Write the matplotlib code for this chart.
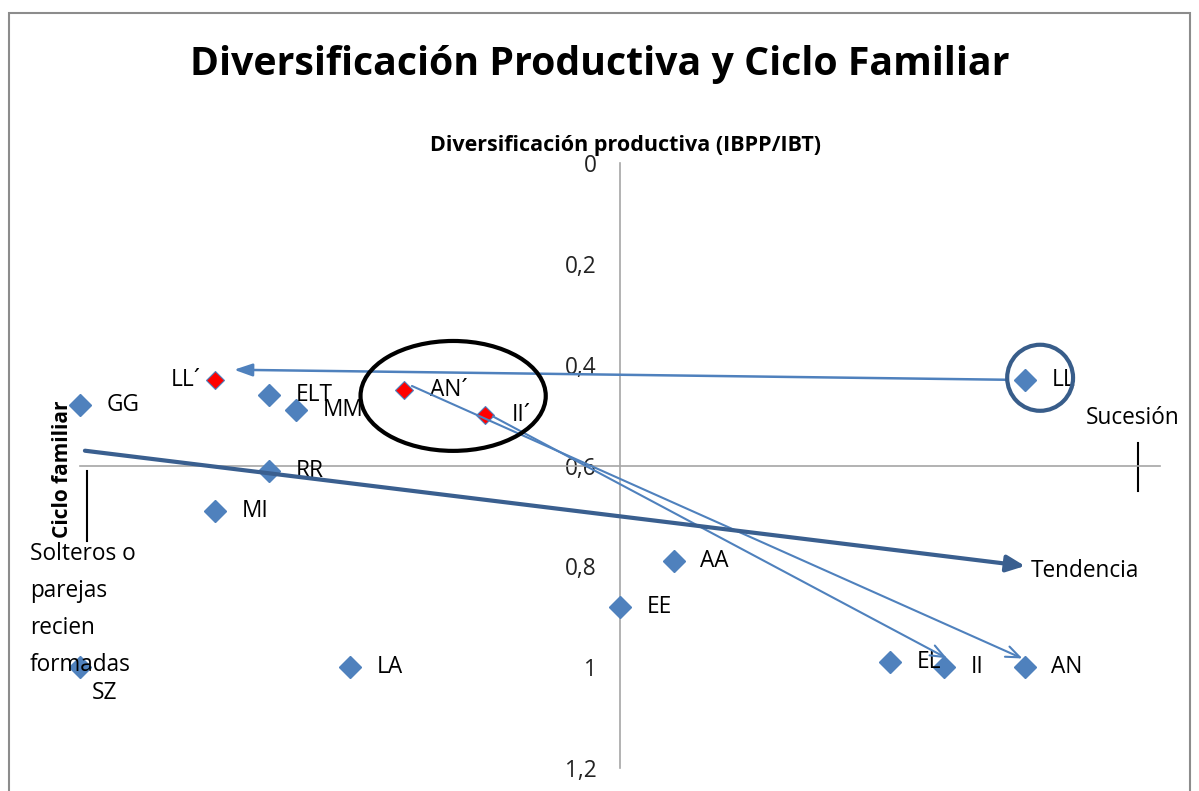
import matplotlib
matplotlib.use("Agg")
import matplotlib.pyplot as plt
from matplotlib.patches import Ellipse, Rectangle

plt.rcParams['font.family'] = ['Open Sans', 'DejaVu Sans']

# --- data: x = position (no scale shown), y = Ciclo familiar ---
labels = ["GG", "ELT", "MM", "RR", "MI", "SZ", "LA", "EE", "AA", "EL", "II", "AN", "LL"]
xs = [-1.0, -0.65, -0.6, -0.65, -0.75, -1.0, -0.5, 0.0, 0.1, 0.5, 0.6, 0.75, 0.75]
ys = [0.48, 0.46, 0.49, 0.61, 0.69, 1.0, 1.0, 0.88, 0.79, 0.99, 1.0, 1.0, 0.43]

# earlier positions (red)
old_labels = ["LL´", "AN´", "II´"]
old_xs = [-0.75, -0.4, -0.25]
old_ys = [0.43, 0.45, 0.50]

yticks = [0, 0.2, 0.4, 0.6, 0.8, 1.0, 1.2]
ytick_labels = ["0", "0,2", "0,4", "0,6", "0,8", "1", "1,2"]

# annotation shapes (data coords)
trend_start = (-0.996, 0.57)
trend_end = (0.755, 0.80)
ll_arrow = ((0.72, 0.43), (-0.72, 0.41))
an_arrow = ((-0.39, 0.44), (0.75, 0.985))
ii_arrow = ((-0.24, 0.50), (0.61, 0.985))

blue = "#4F81BD"
dark = "#3A5F8F"
fs = 16.3

fig = plt.figure(figsize=(11.99, 7.91), dpi=100)
ax = fig.add_axes([80 / 1199, 1 - 768 / 791, 1080 / 1199, 605 / 791])
ax.set_xlim(-1, 1)
ax.set_ylim(1.2, 0)

# axes through the middle
for s in ["top", "right"]:
    ax.spines[s].set_visible(False)
ax.spines["left"].set_position(("data", 0))
ax.spines["bottom"].set_position(("data", 0.6))
for s in ["left", "bottom"]:
    ax.spines[s].set_color("#A6A6A6")
    ax.spines[s].set_linewidth(1.2)
ax.set_xticks([])
ax.set_yticks(yticks, ytick_labels, fontsize=fs, color="#222222")
ax.tick_params(axis="y", length=0, pad=17)

# markers
ax.plot(xs, ys, "D", color=blue, ms=11, mec=blue, ls="none", zorder=3, clip_on=False)
ax.plot(old_xs, old_ys, "D", color="#FF0000", ms=9.5, mec=blue, mew=0.8, ls="none", zorder=3)

for lab, x, y in zip(labels, xs, ys):
    if lab == "SZ":
        ax.annotate(lab, (x, y), xytext=(18, -18.5), textcoords="offset points",
                    fontsize=fs, va="center", ha="center")
    else:
        ax.annotate(lab, (x, y), xytext=(19, 0), textcoords="offset points",
                    fontsize=fs, va="center", ha="left")
for lab, x, y in zip(old_labels, old_xs, old_ys):
    if lab == "LL´":
        ax.annotate(lab, (x, y), xytext=(-10, 0), textcoords="offset points",
                    fontsize=fs, va="center", ha="right")
    else:
        ax.annotate(lab, (x, y), xytext=(19, 0), textcoords="offset points",
                    fontsize=fs, va="center", ha="left")

# arrows
ax.annotate("", xy=ll_arrow[1], xytext=ll_arrow[0],
            arrowprops=dict(arrowstyle="-|>,head_length=1.1,head_width=0.38", color=blue, lw=1.8))
ax.annotate("", xy=an_arrow[1], xytext=an_arrow[0],
            arrowprops=dict(arrowstyle="->,head_length=1.0,head_width=0.4", color=blue, lw=1.5))
ax.annotate("", xy=ii_arrow[1], xytext=ii_arrow[0],
            arrowprops=dict(arrowstyle="->,head_length=1.0,head_width=0.4", color=blue, lw=1.5))
ax.annotate("", xy=trend_end, xytext=trend_start,
            arrowprops=dict(arrowstyle="-|>,head_length=1.1,head_width=0.5", color=dark, lw=3))
ax.text(0.76, 0.81, "Tendencia", fontsize=fs, va="center", ha="left")

# ellipse and circle
ax.add_patch(Ellipse((-0.309, 0.462), 0.343, 0.218, fill=False, ec="black", lw=3, zorder=4))
ax.add_patch(Ellipse((0.778, 0.426), 0.122, 0.131, fill=False, ec="#385D8A", lw=3, zorder=4))

# end marks
ax.plot([-0.987, -0.987], [0.61, 0.75], color="black", lw=1.5, clip_on=False)
ax.plot([0.959, 0.959], [0.555, 0.65], color="black", lw=1.5, clip_on=False)
ax.text(0.862, 0.505, "Sucesión", fontsize=fs, va="center", ha="left", clip_on=False)
ax.text(-1.093, 0.885, "Solteros o\nparejas\nrecien\nformadas", fontsize=fs,
        va="center", ha="left", linespacing=1.72)

# titles
fig.text(0.5, 1 - 65 / 791, "Diversificación Productiva y Ciclo Familiar",
         fontsize=28.3, fontweight="bold", ha="center", va="center")
fig.text(626 / 1199, 1 - 146 / 791, "Diversificación productiva (IBPP/IBT)",
         fontsize=15.5, fontweight="bold", ha="center", va="center")
fig.text(62 / 1199, 1 - 469 / 791, "Ciclo familiar", fontsize=15, fontweight="bold",
         rotation=90, ha="center", va="center")

# chart border
fig.patches.append(Rectangle((9 / 1199, -0.1), 1181 / 1199, (791 - 13) / 791 + 0.1,
                             transform=fig.transFigure, fill=False, ec="#8C8C8C", lw=1.5))

fig.savefig("out.png", dpi=100)
